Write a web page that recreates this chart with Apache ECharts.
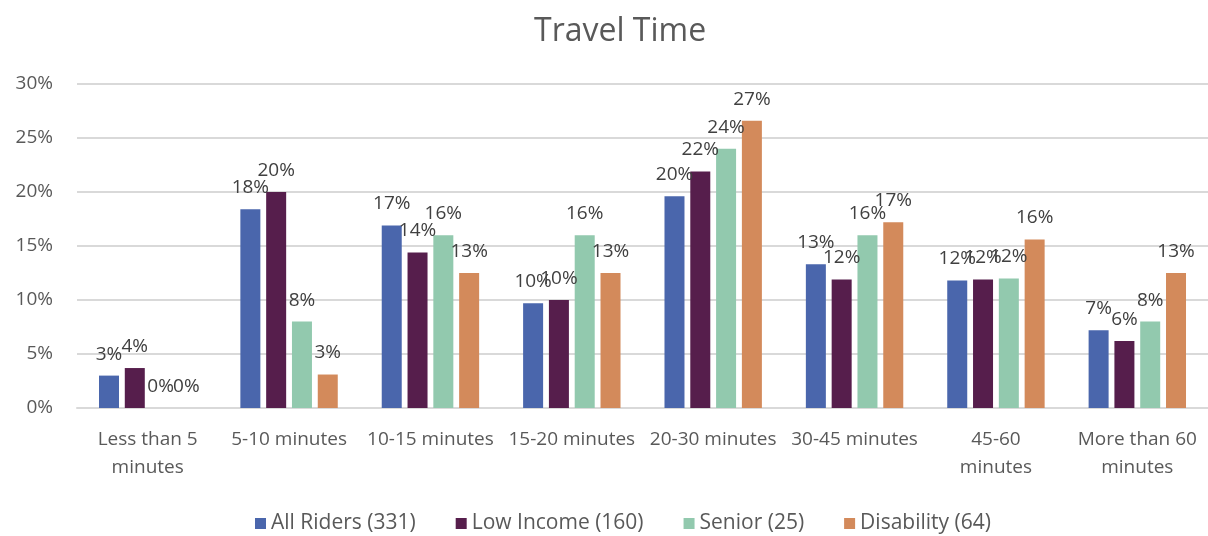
<!DOCTYPE html>
<html>
<head>
<meta charset="utf-8">
<script src="https://cdn.jsdelivr.net/npm/echarts@6/dist/echarts.min.js"></script>
<style>
html,body{margin:0;padding:0;background:#fff;}
#chart{width:1208px;height:536px;}
</style>
</head>
<body>
<div id="chart"></div>
<script>
const categories = ["Less than 5\nminutes", "5-10 minutes", "10-15 minutes", "15-20 minutes", "20-30 minutes", "30-45 minutes", "45-60\nminutes", "More than 60\nminutes"];
const seriesNames = ["All Riders (331)", "Low Income (160)", "Senior (25)", "Disability (64)"];
const allRiders = [3.0, 18.4, 16.9, 9.7, 19.6, 13.3, 11.8, 7.2];
const lowIncome = [3.7, 20.0, 14.4, 10.0, 21.9, 11.9, 11.9, 6.2];
const senior = [0, 8.0, 16.0, 16.0, 24.0, 16.0, 12.0, 8.0];
const disability = [0, 3.1, 12.5, 12.5, 26.6, 17.2, 15.6, 12.5];
const yTicks = [0, 5, 10, 15, 20, 25, 30];

const colors = ["#4a66ac", "#561e4c", "#92c9ae", "#d38a5b"];
const values = [allRiders, lowIncome, senior, disability];
const FONT = "Open Sans";

const chart = echarts.init(document.getElementById('chart'));
chart.setOption({
  animation: false,
  title: {
    text: "Travel Time",
    left: 529,
    top: 11,
    textStyle: {fontFamily: FONT, fontSize: 32, fontWeight: 'normal', color: '#595959'}
  },
  legend: {
    data: seriesNames,
    top: 508,
    left: 250,
    itemWidth: 11,
    itemHeight: 11,
    itemGap: 40,
    icon: 'rect',
    textStyle: {fontFamily: FONT, fontSize: 21, color: '#595959'}
  },
  grid: {left: 77, right: 0, top: 84, bottom: 128},
  xAxis: {
    type: 'category',
    data: categories,
    axisTick: {show: false},
    axisLine: {lineStyle: {color: '#d9d9d9', width: 2}},
    axisLabel: {interval: 0, fontFamily: FONT, fontSize: 19, color: '#595959', lineHeight: 28, margin: 18}
  },
  yAxis: {
    type: 'value',
    min: yTicks[0],
    max: yTicks[yTicks.length - 1],
    interval: 5,
    axisLine: {show: false},
    axisTick: {show: false},
    splitLine: {lineStyle: {color: '#d9d9d9', width: 2}},
    axisLabel: {formatter: v => v + '%', fontFamily: FONT, fontSize: 19, color: '#595959', margin: 24}
  },
  series: seriesNames.map((n, i) => ({
    name: n,
    type: 'bar',
    data: values[i],
    barWidth: 20,
    barGap: '29%',
    itemStyle: {color: colors[i]},
    label: {
      show: true,
      position: 'top',
      distance: 12,
      formatter: p => Math.round(p.value) + '%',
      fontFamily: FONT,
      fontSize: 19,
      color: '#404040'
    }
  }))
});
</script>
</body>
</html>
